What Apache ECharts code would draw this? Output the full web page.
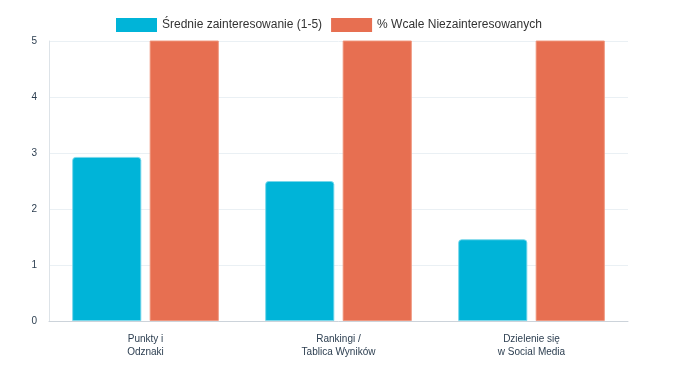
<!DOCTYPE html>
<html><head><meta charset="utf-8">
<script src="https://cdn.jsdelivr.net/npm/echarts@6/dist/echarts.min.js"></script>
<style>html,body{margin:0;padding:0;background:#fff}#c{width:676px;height:371px}</style>
</head><body><div id="c"></div>
<script>
var categories = ['Punkty i\nOdznaki', 'Rankingi /\nTablica Wyników', 'Dzielenie się\nw Social Media'];
var avgInterest = [2.93, 2.5, 1.46];
var pctNotInterested = [18, 22, 41];
var yTicks = [0, 1, 2, 3, 4, 5];
var seriesNames = ['Średnie zainteresowanie (1-5)', '% Wcale Niezainteresowanych'];

var chart = echarts.init(document.getElementById('c'));
chart.setOption({
  animation: false,
  textStyle: {fontFamily: 'Liberation Sans, Arial, sans-serif'},
  legend: {
    top: 13, left: 111, itemWidth: 41, itemHeight: 14, itemGap: 9, icon: 'rect',
    itemStyle: {borderWidth: 0},
    textStyle: {fontSize: 12, color: '#333'},
    data: seriesNames
  },
  grid: {left: 49, right: 48, top: 41, bottom: 50},
  xAxis: {
    type: 'category', data: categories,
    axisLine: {lineStyle: {color: '#ccd3da'}},
    axisTick: {show: false},
    axisLabel: {fontSize: 10, color: '#2c3e50', margin: 12, lineHeight: 13}
  },
  yAxis: {
    type: 'value', min: yTicks[0], max: yTicks[yTicks.length - 1], interval: 1,
    axisLine: {show: true, lineStyle: {color: '#dde3e8'}},
    axisTick: {show: false},
    axisLabel: {fontSize: 10, color: '#2c3e50', margin: 12},
    splitLine: {lineStyle: {color: '#eaf0f4'}}
  },
  series: [
    {name: seriesNames[0], type: 'bar', data: avgInterest, barGap: '12%', barCategoryGap: '24%',
     itemStyle: {color: '#00b4d8', borderRadius: [3, 3, 0, 0], borderColor: 'rgba(120,215,235,0.9)', borderWidth: 1}},
    {name: seriesNames[1], type: 'bar', data: pctNotInterested, clip: true,
     itemStyle: {color: '#e76f51', borderRadius: 0, borderColor: 'rgba(240,150,125,0.9)', borderWidth: 1}}
  ]
});
</script></body></html>
